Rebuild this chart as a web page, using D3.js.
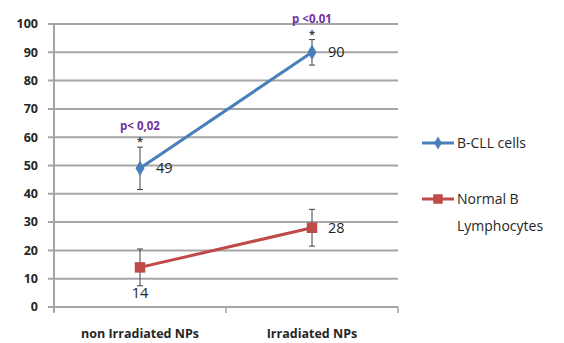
<!DOCTYPE html>
<html>
<head>
<meta charset="utf-8">
<script src="https://cdn.jsdelivr.net/npm/d3@7"></script>
<style>
  body { margin: 0; background: #fff; }
  text { font-family: "Open Sans", "Liberation Sans", sans-serif; }
</style>
</head>
<body>
<div id="chart"></div>
<script>
// datos del grafico
const categories = ["non Irradiated NPs", "Irradiated NPs"];
const seriesNames = ["B-CLL cells", "Normal B Lymphocytes"];
const bcllValues = [49, 90];
const normalValues = [14, 28];
const bcllErrors = [7.5, 4.5];
const normalErrors = [6.5, 6.5];
const pLabels = ["p< 0,02", "p <0.01"];
const yTicks = [0, 10, 20, 30, 40, 50, 60, 70, 80, 90, 100];

const width = 564, height = 343;
const margin = { top: 24, right: 166, bottom: 36, left: 54 };
const chartWidth = width - margin.left - margin.right;
const chartHeight = height - margin.top - margin.bottom;

const svg = d3.select("#chart").append("svg")
    .attr("width", width)
    .attr("height", height);

const g = svg.append("g")
    .attr("transform", `translate(${margin.left},${margin.top})`);

const xScale = d3.scaleBand().domain(categories).range([0, chartWidth]);
const yScale = d3.scaleLinear().domain([0, 100]).range([chartHeight, 0]);
const xc = d => xScale(d) + xScale.bandwidth() / 2;

// lineas de la grilla
g.selectAll(".grid")
    .data(yTicks)
    .enter().append("line")
    .attr("x1", -6)
    .attr("x2", chartWidth)
    .attr("y1", d => yScale(d))
    .attr("y2", d => yScale(d))
    .attr("stroke", "#a6a6a6")
    .attr("stroke-width", 2);

// eje Y
g.append("line")
    .attr("x1", 0).attr("x2", 0)
    .attr("y1", 0).attr("y2", chartHeight + 5)
    .attr("stroke", "#a6a6a6").attr("stroke-width", 2);

g.selectAll(".ytick")
    .data(yTicks)
    .enter().append("text")
    .attr("x", -16)
    .attr("y", d => yScale(d))
    .attr("dy", "0.35em")
    .attr("text-anchor", "end")
    .style("font-size", "12.5px")
    .style("font-weight", "bold")
    .attr("fill", "#262626")
    .text(d => d);

// marcas del eje X
const xEdges = [0, ...categories.map(c => xScale(c) + xScale.bandwidth())];
g.selectAll(".xtick")
    .data(xEdges)
    .enter().append("line")
    .attr("x1", d => d).attr("x2", d => d)
    .attr("y1", chartHeight).attr("y2", chartHeight + 6)
    .attr("stroke", "#a6a6a6").attr("stroke-width", 1.5);

g.selectAll(".xlabel")
    .data(categories)
    .enter().append("text")
    .attr("x", d => xc(d))
    .attr("y", chartHeight + 31)
    .attr("text-anchor", "middle")
    .style("font-size", "12.5px")
    .style("font-weight", "bold")
    .attr("fill", "#262626")
    .text(d => d);

const series = [
    { name: seriesNames[0], values: bcllValues, errors: bcllErrors, color: "#4a7ebb", shape: "diamond" },
    { name: seriesNames[1], values: normalValues, errors: normalErrors, color: "#be4b48", shape: "square" }
];

const line = d3.line()
    .x((d, i) => xc(categories[i]))
    .y(d => yScale(d));

series.forEach(s => {
    // barras de error
    categories.forEach((c, i) => {
        const x = xc(c);
        const y1 = yScale(s.values[i] + s.errors[i]);
        const y2 = yScale(s.values[i] - s.errors[i]);
        g.append("line").attr("x1", x).attr("x2", x).attr("y1", y1).attr("y2", y2)
            .attr("stroke", "#404040").attr("stroke-width", 1);
        [y1, y2].forEach(y => g.append("line")
            .attr("x1", x - 3).attr("x2", x + 3).attr("y1", y).attr("y2", y)
            .attr("stroke", "#404040").attr("stroke-width", 1));
    });

    g.append("path")
        .datum(s.values)
        .attr("fill", "none")
        .attr("stroke", s.color)
        .attr("stroke-width", 3)
        .attr("d", line);

    const sym = s.shape === "diamond" ? d3.symbolDiamond : d3.symbolSquare;
    g.selectAll(null)
        .data(s.values)
        .enter().append("path")
        .attr("transform", (d, i) => `translate(${xc(categories[i])},${yScale(d)})`)
        .attr("d", d3.symbol().type(sym).size(s.shape === "diamond" ? 70 : 110))
        .attr("fill", s.color);
});

// etiquetas de valores
const valueLabels = [
    { v: bcllValues[0], i: 0, dx: 16, dy: 0, anchor: "start" },
    { v: bcllValues[1], i: 1, dx: 16, dy: 0, anchor: "start" },
    { v: normalValues[0], i: 0, dx: 0, dy: 26, anchor: "middle" },
    { v: normalValues[1], i: 1, dx: 16, dy: 0, anchor: "start" }
];
g.selectAll(".vlabel")
    .data(valueLabels)
    .enter().append("text")
    .attr("x", d => xc(categories[d.i]) + d.dx)
    .attr("y", d => yScale(d.v) + d.dy)
    .attr("dy", "0.35em")
    .attr("text-anchor", d => d.anchor)
    .style("font-size", "14.5px")
    .attr("fill", "#262626")
    .text(d => d.v);

// asteriscos y valores p
categories.forEach((c, i) => {
    const top = yScale(bcllValues[i] + bcllErrors[i]);
    g.append("text")
        .attr("x", xc(c))
        .attr("y", top - 10)
        .attr("dy", "0.75em")
        .attr("text-anchor", "middle")
        .style("font-size", "11px")
        .style("font-weight", "bold")
        .attr("fill", "#404040")
        .text("*");
    g.append("text")
        .attr("x", xc(c))
        .attr("y", top - 21)
        .attr("dy", "0.35em")
        .attr("text-anchor", "middle")
        .style("font-size", "11.5px")
        .style("font-weight", "bold")
        .attr("fill", "#7030a0")
        .text(pLabels[i]);
});

// leyenda
const legend = svg.append("g").attr("transform", "translate(422,143)");
const legendRows = [
    { s: series[0], y: 0, lines: ["B-CLL cells"] },
    { s: series[1], y: 56, lines: ["Normal B", "Lymphocytes"] }
];
legendRows.forEach(r => {
    const row = legend.append("g").attr("transform", `translate(0,${r.y})`);
    row.append("line").attr("x1", 0).attr("x2", 32)
        .attr("stroke", r.s.color).attr("stroke-width", 3);
    row.append("path")
        .attr("transform", "translate(16,0)")
        .attr("d", d3.symbol().type(r.s.shape === "diamond" ? d3.symbolDiamond : d3.symbolSquare)
            .size(r.s.shape === "diamond" ? 50 : 90))
        .attr("fill", r.s.color);
    row.selectAll("text")
        .data(r.lines)
        .enter().append("text")
        .attr("x", 35)
        .attr("y", (d, i) => i * 27)
        .attr("dy", "0.35em")
        .style("font-size", "14px")
        .attr("fill", "#262626")
        .text(d => d);
});
</script>
</body>
</html>
